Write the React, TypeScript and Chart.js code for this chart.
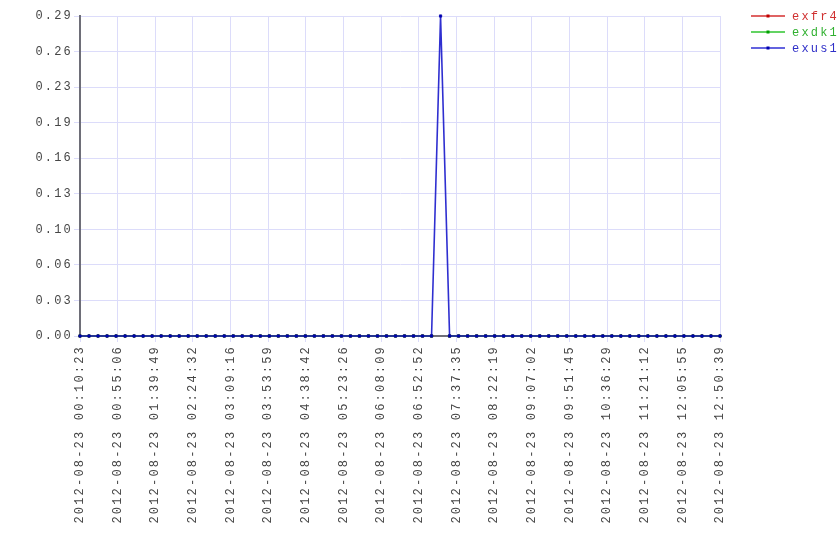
import React, { useEffect, useRef } from "react";
import { Chart, registerables } from "chart.js";

Chart.register(...registerables);

const seriesNames = ["exfr4", "exdk1", "exus1"];

const exfr4 = [
  0, 0, 0, 0, 0, 0, 0, 0, 0, 0, 0, 0,
  0, 0, 0, 0, 0, 0, 0, 0, 0, 0, 0, 0,
  0, 0, 0, 0, 0, 0, 0, 0, 0, 0, 0, 0,
  0, 0, 0, 0, null, 0, 0, 0, 0, 0, 0, 0,
  0, 0, 0, 0, 0, 0, 0, 0, 0, 0, 0, 0,
  0, 0, 0, 0, 0, 0, 0, 0, 0, 0, 0, 0,
];

const exdk1 = [
  0, 0, 0, 0, 0, 0, 0, 0, 0, 0, 0, 0,
  0, 0, 0, 0, 0, 0, 0, 0, 0, 0, 0, 0,
  0, 0, 0, 0, 0, 0, 0, 0, 0, 0, 0, 0,
  0, 0, 0, 0, null, 0, 0, 0, 0, 0, 0, 0,
  0, 0, 0, 0, 0, 0, 0, 0, 0, 0, 0, 0,
  0, 0, 0, 0, 0, 0, 0, 0, 0, 0, 0, 0,
];

const exus1 = [
  0, 0, 0, 0, 0, 0, 0, 0, 0, 0, 0, 0,
  0, 0, 0, 0, 0, 0, 0, 0, 0, 0, 0, 0,
  0, 0, 0, 0, 0, 0, 0, 0, 0, 0, 0, 0,
  0, 0, 0, 0, 0.29, 0, 0, 0, 0, 0, 0, 0,
  0, 0, 0, 0, 0, 0, 0, 0, 0, 0, 0, 0,
  0, 0, 0, 0, 0, 0, 0, 0, 0, 0, 0, 0,
];

const xTickLabels = [
  "2012-08-23 00:10:23",
  "2012-08-23 00:55:06",
  "2012-08-23 01:39:49",
  "2012-08-23 02:24:32",
  "2012-08-23 03:09:16",
  "2012-08-23 03:53:59",
  "2012-08-23 04:38:42",
  "2012-08-23 05:23:26",
  "2012-08-23 06:08:09",
  "2012-08-23 06:52:52",
  "2012-08-23 07:37:35",
  "2012-08-23 08:22:19",
  "2012-08-23 09:07:02",
  "2012-08-23 09:51:45",
  "2012-08-23 10:36:29",
  "2012-08-23 11:21:12",
  "2012-08-23 12:05:55",
  "2012-08-23 12:50:39",
];

const yTickLabels = ["0.00", "0.03", "0.06", "0.10", "0.13", "0.16", "0.19", "0.23", "0.26", "0.29"];
const yMin = 0;
const yMax = 0.29;

const lineColors = ["rgba(210,30,30,0.75)", "rgba(30,190,30,0.75)", "rgba(10,10,200,0.85)"];
const legendLineColors = ["rgba(215,60,60,0.8)", "rgba(60,200,60,0.8)", "rgba(60,60,215,0.8)"];
const pointColors = ["#c00000", "#00a000", "#0000b0"];
const textColors = ["#d03030", "#30b030", "#3030c8"];

const FONT_FAMILY = '"Liberation Mono", "DejaVu Sans Mono", monospace';
const LETTER_SPACING = "2.2px";

const spacingPlugin = {
  id: "letterSpacingPlugin",
  beforeLayout(chart: any) {
    chart.ctx.letterSpacing = LETTER_SPACING;
  },
  beforeDraw(chart: any) {
    chart.ctx.letterSpacing = LETTER_SPACING;
  },
};

const legendPlugin = {
  id: "lineLegend",
  afterDraw(chart: any) {
    const ctx = chart.ctx;
    ctx.save();
    ctx.letterSpacing = LETTER_SPACING;
    ctx.font = `12px ${FONT_FAMILY}`;
    ctx.textBaseline = "middle";
    ctx.textAlign = "left";
    chart.data.datasets.forEach((ds: any, i: number) => {
      const y = 16 + i * 16;
      ctx.strokeStyle = legendLineColors[i];
      ctx.lineWidth = 2;
      ctx.beginPath();
      ctx.moveTo(751, y);
      ctx.lineTo(785, y);
      ctx.stroke();
      ctx.fillStyle = pointColors[i];
      ctx.fillRect(766.5, y - 1.5, 3, 3);
      ctx.fillStyle = textColors[i];
      ctx.fillText(ds.label, 792, y + 0.5);
    });
    ctx.restore();
  },
};

export default function App() {
  const ref = useRef<HTMLCanvasElement | null>(null);

  useEffect(() => {
    if (!ref.current) return;
    const series = [exfr4, exdk1, exus1];
    const chart = new Chart(ref.current, {
      type: "line",
      data: {
        datasets: series.map((vals, i) => ({
          label: seriesNames[i],
          data: vals.map((v, j) => ({ x: j, y: v })),
          borderColor: lineColors[i],
          backgroundColor: pointColors[i],
          pointBackgroundColor: pointColors[i],
          pointBorderColor: pointColors[i],
          pointStyle: "rect",
          pointRadius: 1.6,
          pointBorderWidth: 0.8,
          borderWidth: 1.6,
          tension: 0,
          fill: false,
          spanGaps: false,
          clip: false as any,
          order: 3 - i,
        })),
      },
      options: {
        animation: false,
        responsive: false,
        events: [],
        layout: { padding: { left: 0, top: 16, right: 120, bottom: 0 } },
        plugins: {
          legend: { display: false },
          tooltip: { enabled: false },
        },
        scales: {
          x: {
            type: "linear",
            min: 0,
            max: exus1.length - 1,
            afterBuildTicks(scale: any) {
              const n = xTickLabels.length - 1;
              scale.ticks = xTickLabels.map((_, i) => ({ value: (i * (exus1.length - 1)) / n }));
            },
            afterFit(scale: any) {
              scale.height = 224;
            },
            ticks: {
              autoSkip: false,
              minRotation: 90,
              maxRotation: 90,
              padding: 3,
              color: "#454545",
              font: { family: FONT_FAMILY, size: 12 },
              callback: (_v: any, i: number) => xTickLabels[i],
            },
            grid: { color: "#dcdcfa", lineWidth: 1, tickLength: 6 },
            border: { display: true, color: "#6e6e78", width: 2 },
          },
          y: {
            type: "linear",
            min: yMin,
            max: yMax,
            afterBuildTicks(scale: any) {
              const n = yTickLabels.length - 1;
              scale.ticks = yTickLabels.map((_, i) => ({ value: yMin + (i * (yMax - yMin)) / n }));
            },
            afterFit(scale: any) {
              scale.width = 80;
            },
            ticks: {
              padding: 1,
              color: "#454545",
              font: { family: FONT_FAMILY, size: 12 },
              callback: (_v: any, i: number) => yTickLabels[i],
            },
            grid: { color: "#dcdcfa", lineWidth: 1, tickLength: 6 },
            border: { display: true, color: "#6e6e78", width: 2 },
          },
        },
      },
      plugins: [spacingPlugin, legendPlugin],
    });
    return () => chart.destroy();
  }, []);

  return (
    <div style={{ position: "fixed", left: 0, top: 0, width: 840, height: 560, background: "#fff" }}>
      <canvas ref={ref} width={840} height={560} style={{ width: 840, height: 560 }} />
    </div>
  );
}
